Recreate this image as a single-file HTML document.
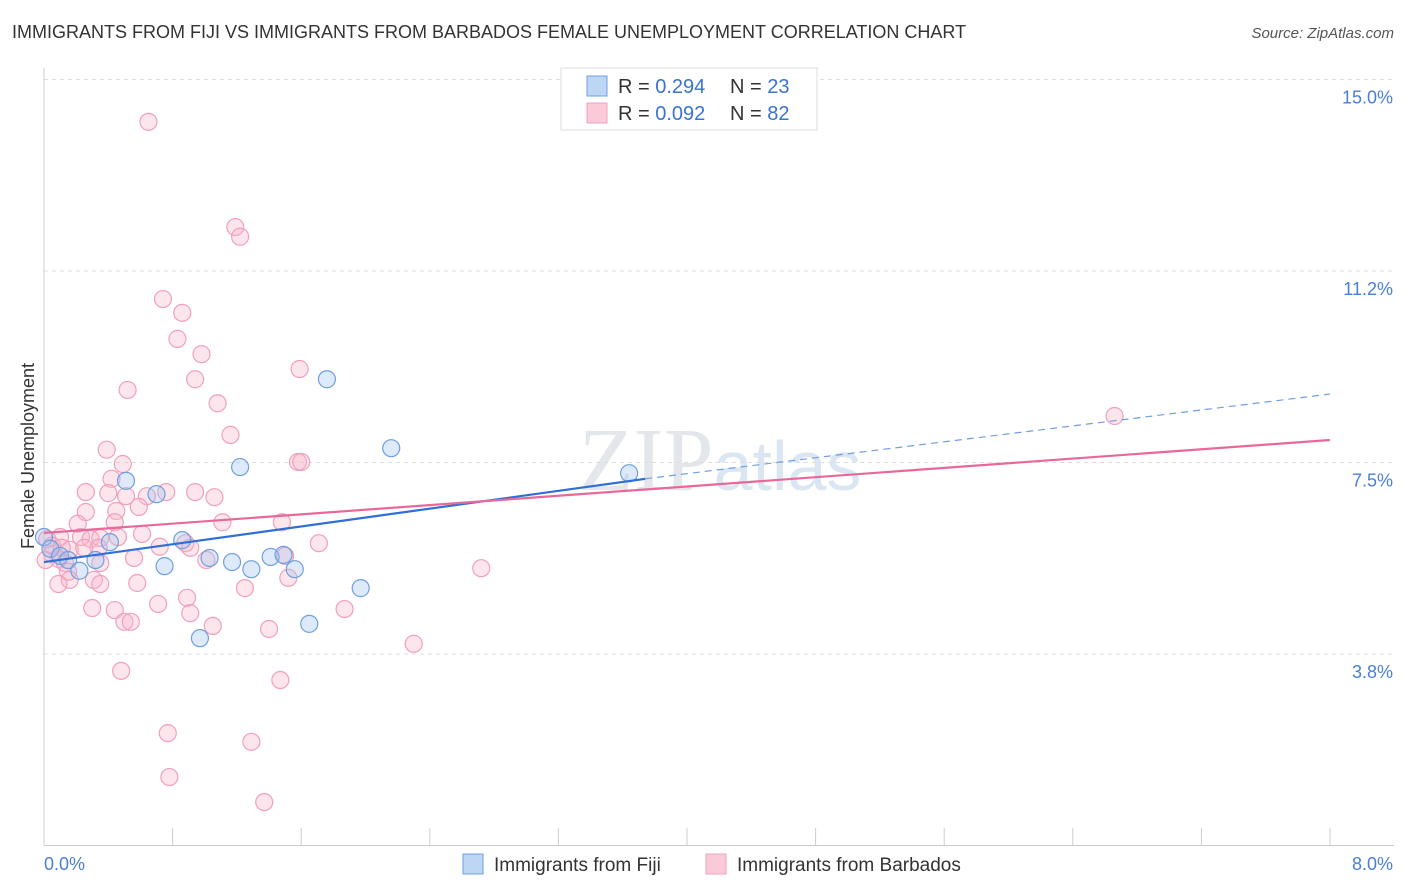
<!DOCTYPE html>
<html><head><meta charset="utf-8"><style>
body{margin:0;background:#fff;font-family:"Liberation Sans",sans-serif;}
#c{position:relative;width:1406px;height:892px;overflow:hidden;}
.t{position:absolute;white-space:nowrap;}
</style></head><body>
<div id="c">
<div class="t" style="left:12px;top:22px;font-size:18px;color:#333;">IMMIGRANTS FROM FIJI VS IMMIGRANTS FROM BARBADOS FEMALE UNEMPLOYMENT CORRELATION CHART</div>
<div class="t" style="right:12px;top:25px;font-size:15px;color:#555;font-style:italic;">Source: ZipAtlas.com</div>
<svg id="s" width="1406" height="892" style="position:absolute;left:0;top:0"></svg>
</div>
<script>
const xTicks=[0,0.8,1.6,2.4,3.2,4.0,4.8,5.6,6.4,7.2,8.0];
const yTicks=[3.75,7.5,11.25,15];
const yTickLabels=["3.8%","7.5%","11.2%","15.0%"];
const fijiX=[0.00,0.04,0.10,0.15,0.22,0.32,0.41,0.51,0.70,0.75,0.86,0.97,1.03,1.17,1.22,1.29,1.41,1.49,1.56,1.65,1.76,1.97,2.16,3.64];
const fijiY=[6.04,5.81,5.67,5.59,5.38,5.59,5.94,7.14,6.88,5.47,5.98,4.06,5.63,5.55,7.41,5.41,5.65,5.69,5.41,4.34,9.13,5.04,7.78,7.29];
const barbX=[0.65,1.19,1.22,0.74,0.86,0.83,0.98,1.59,0.94,0.52,1.08,1.16,0.39,1.58,1.60,0.49,0.42,0.26,0.40,0.51,0.64,0.76,0.94,1.06,0.59,0.26,0.45,0.44,0.21,1.11,1.48,0.61,0.10,0.02,0.23,0.29,0.35,0.46,0.88,0.72,0.34,0.91,0.16,0.25,0.05,0.09,0.01,0.13,0.35,0.56,1.01,1.71,1.50,0.15,0.16,0.09,0.31,0.35,0.58,1.52,1.25,0.89,0.71,0.30,0.44,0.91,1.87,0.50,0.54,1.05,1.40,2.30,0.48,1.47,0.77,1.29,0.78,1.37,6.66,2.72,0.05,0.11];
const barbY=[14.17,12.11,11.92,10.70,10.43,9.92,9.62,9.33,9.13,8.92,8.66,8.04,7.75,7.51,7.51,7.47,7.18,6.92,6.90,6.84,6.84,6.92,6.92,6.82,6.63,6.53,6.55,6.33,6.30,6.33,6.33,6.10,6.04,6.00,6.04,6.00,6.02,6.04,5.92,5.85,5.83,5.83,5.79,5.83,5.71,5.61,5.59,5.53,5.53,5.63,5.59,5.92,5.67,5.36,5.20,5.12,5.20,5.12,5.14,5.24,5.04,4.85,4.73,4.65,4.61,4.55,4.63,4.38,4.38,4.30,4.24,3.95,3.42,3.24,2.20,2.03,1.34,0.85,8.41,5.43,5.87,5.83];
const fijiTrendX=[0,3.74,8.0];
const fijiTrendY=[5.55,7.18,8.84];
const barbTrendX=[0,8.0];
const barbTrendY=[6.12,7.94];

const X=v=>44+v/8*1286;
const Y=v=>845.5-v*51.07;
const s=document.getElementById('s');
const NS='http://www.w3.org/2000/svg';
function mk(tag,a){const e=document.createElementNS(NS,tag);for(const k in a)e.setAttribute(k,a[k]);s.appendChild(e);return e;}

// watermark
let w=mk('text',{x:720,y:490,'text-anchor':'middle','font-size':90,'font-family':'Liberation Serif, serif',fill:'#e3e6ea'});


w.innerHTML='ZIP<tspan font-family="Liberation Sans, sans-serif" font-size="70" fill="#dbe6f3">atlas</tspan>';

yTicks.forEach((v,i)=>{
  const g=mk('line',{x1:44,x2:1394,y1:Y(v),y2:Y(v),stroke:'#ddd','stroke-dasharray':'4,4'});
  
  
  const t=mk('text',{x:1393,y:Y(v)+24,'text-anchor':'end','font-size':18,fill:'#4a7fd4'});
  
  
  t.textContent=yTickLabels[i];
});
let ax=mk('line',{x1:44,x2:1394,y1:845.5,y2:845.5,stroke:'#ccc'});


let ay=mk('line',{x1:44,x2:44,y1:68,y2:845.5,stroke:'#ccc'});


xTicks.forEach(v=>{
  const l=mk('line',{x1:X(v),x2:X(v),y1:828,y2:845.5,stroke:'#ccc'});
  
  
});
let xl0=mk('text',{x:44,y:870,'font-size':18,fill:'#4a7fd4'});


xl0.textContent='0.0%';
let xl1=mk('text',{x:1393,y:870,'text-anchor':'end','font-size':18,fill:'#4a7fd4'});


xl1.textContent='8.0%';
let yt=mk('text',{x:34,y:456,'text-anchor':'middle','font-size':18,fill:'#333',transform:'rotate(-90 34 456)'});


yt.textContent='Female Unemployment';

barbX.forEach((x,i)=>{
  const c=mk('circle',{cx:X(x),cy:Y(barbY[i]),r:8.5,fill:'rgba(248,180,200,0.35)',stroke:'#f0a0bc','stroke-width':1.2});
  
  
});
fijiX.forEach((x,i)=>{
  const c=mk('circle',{cx:X(x),cy:Y(fijiY[i]),r:8.5,fill:'rgba(160,196,240,0.35)',stroke:'#6f9fe0','stroke-width':1.2});
  
  
});
let ft=mk('line',{x1:X(fijiTrendX[0]),y1:Y(fijiTrendY[0]),x2:X(fijiTrendX[1]),y2:Y(fijiTrendY[1]),stroke:'#2f6fd6','stroke-width':2.2});


let fd=mk('line',{x1:X(fijiTrendX[1]),y1:Y(fijiTrendY[1]),x2:X(fijiTrendX[2]),y2:Y(fijiTrendY[2]),stroke:'#6f9fe0','stroke-width':1.2,'stroke-dasharray':'7,5'});


let bt=mk('line',{x1:X(barbTrendX[0]),y1:Y(barbTrendY[0]),x2:X(barbTrendX[1]),y2:Y(barbTrendY[1]),stroke:'#e8689a','stroke-width':2.2});



// top legend
let lb=mk('rect',{x:561,y:68,width:256,height:62,fill:'#fff',stroke:'#ddd'});


[[0,'rgba(160,196,240,0.7)','#6f9fe0','0.294','23'],[1,'rgba(248,180,200,0.7)','#f0a0bc','0.092','82']].forEach(r=>{
  const y=76+r[0]*27;
  const sw=mk('rect',{x:587,y:y,width:20,height:20,fill:r[1],stroke:r[2]});
  
  
  const t=mk('text',{x:618,y:y+17,'font-size':20,fill:'#333'});
  
  
  t.innerHTML='R = <tspan fill="#3a73d0">'+r[3]+'</tspan><tspan x="730">N = </tspan><tspan fill="#3a73d0">'+r[4]+'</tspan>';
});
// bottom legend
[[463,'rgba(160,196,240,0.7)','#6f9fe0','Immigrants from Fiji'],[706,'rgba(248,180,200,0.7)','#f0a0bc','Immigrants from Barbados']].forEach(r=>{
  const sw=mk('rect',{x:r[0],y:854,width:20,height:20,fill:r[1],stroke:r[2]});
  
  
  const t=mk('text',{x:r[0]+31,y:871,'font-size':19,fill:'#333'});
  
  
  t.textContent=r[3];
});
</script>
</body></html>
